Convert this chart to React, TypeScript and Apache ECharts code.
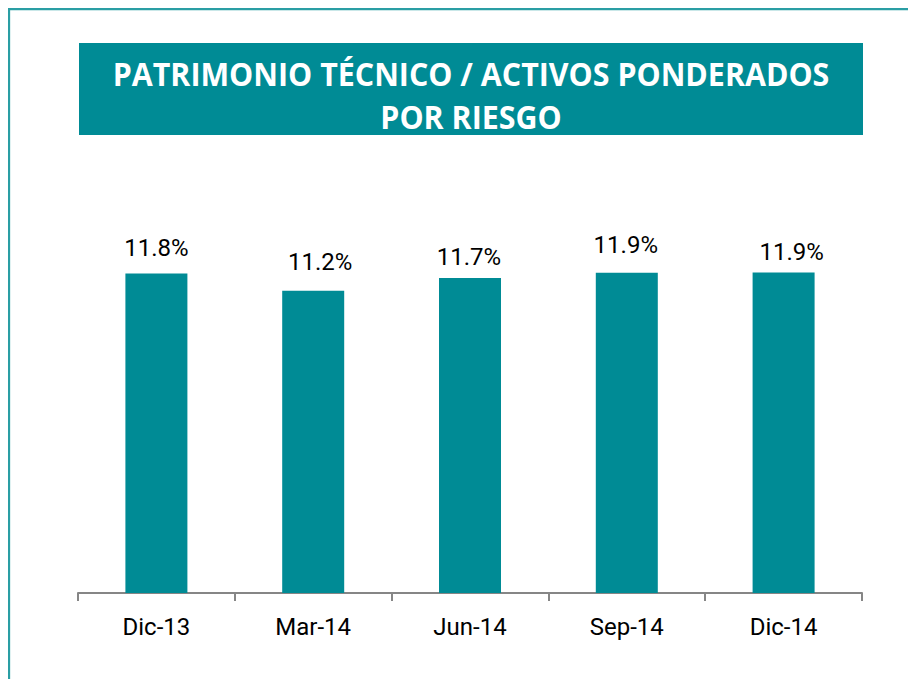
import React, { useEffect, useRef } from "react";
import * as echarts from "echarts";

const categories = ["Dic-13", "Mar-14", "Jun-14", "Sep-14", "Dic-14"];
const values = [11.83, 11.19, 11.67, 11.86, 11.87];
const labelOffsetX = [0, 7, -1, -1, 8];
const labelOffsetY = [-14, -17, -9, -16, -9];
const titleLines = ["PATRIMONIO TÉCNICO / ACTIVOS PONDERADOS", "POR RIESGO"];

const TEAL = "#008b95";

export default function App() {
  const ref = useRef<HTMLDivElement>(null);
  useEffect(() => {
    if (!ref.current) return;
    const chart = echarts.init(ref.current, undefined, { renderer: "svg" });
    chart.setOption({
      animation: false,
      backgroundColor: "#ffffff",
      grid: { left: 70, right: 54, top: 207, bottom: 86, containLabel: false },
      xAxis: {
        type: "category",
        data: categories,
        boundaryGap: true,
        axisLine: { lineStyle: { color: "#868686", width: 2 } },
        axisTick: { show: true, length: 8, lineStyle: { color: "#868686", width: 2 } },
        axisLabel: { fontFamily: "Roboto", fontSize: 24, color: "#000", margin: 22 },
      },
      yAxis: {
        type: "value",
        min: 0,
        max: 14,
        show: false,
        splitLine: { show: false },
      },
      series: [
        {
          type: "bar",
          barWidth: 62,
          itemStyle: { color: TEAL },
          data: values.map((v, i) => ({
            value: v,
            label: { offset: [labelOffsetX[i], labelOffsetY[i]] },
          })),
          label: {
            show: true,
            position: "top",
            distance: 0,
            fontFamily: "Roboto",
            fontSize: 24,
            color: "#000",
            formatter: (p: any) => p.value.toFixed(1) + "%",
          },
        },
      ],
      graphic: [
        { type: "line", shape: { x1: 0, y1: 0.8, x2: 908, y2: 0.8 }, style: { stroke: "#2a9ea4", lineWidth: 2.7 } },
        { type: "line", shape: { x1: 0.8, y1: 0, x2: 0.8, y2: 671 }, style: { stroke: "#2a9ea4", lineWidth: 2.7 } },
        { type: "rect", shape: { x: 71, y: 35, width: 784, height: 92 }, style: { fill: TEAL } },
        {
          type: "text",
          x: 463,
          y: 66,
          scaleX: 0.95,
          style: {
            x: 0,
            y: 0,
            text: titleLines[0],
            fill: "#fff",
            font: "bold 32px 'Open Sans'",
            textAlign: "center",
            textVerticalAlign: "middle",
          },
        },
        {
          type: "text",
          x: 463,
          y: 109,
          scaleX: 0.95,
          style: {
            x: 0,
            y: 0,
            text: titleLines[1],
            fill: "#fff",
            font: "bold 32px 'Open Sans'",
            textAlign: "center",
            textVerticalAlign: "middle",
          },
        },
      ],
    });
    return () => chart.dispose();
  }, []);
  return <div ref={ref} style={{ width: 908, height: 671 }} />;
}
